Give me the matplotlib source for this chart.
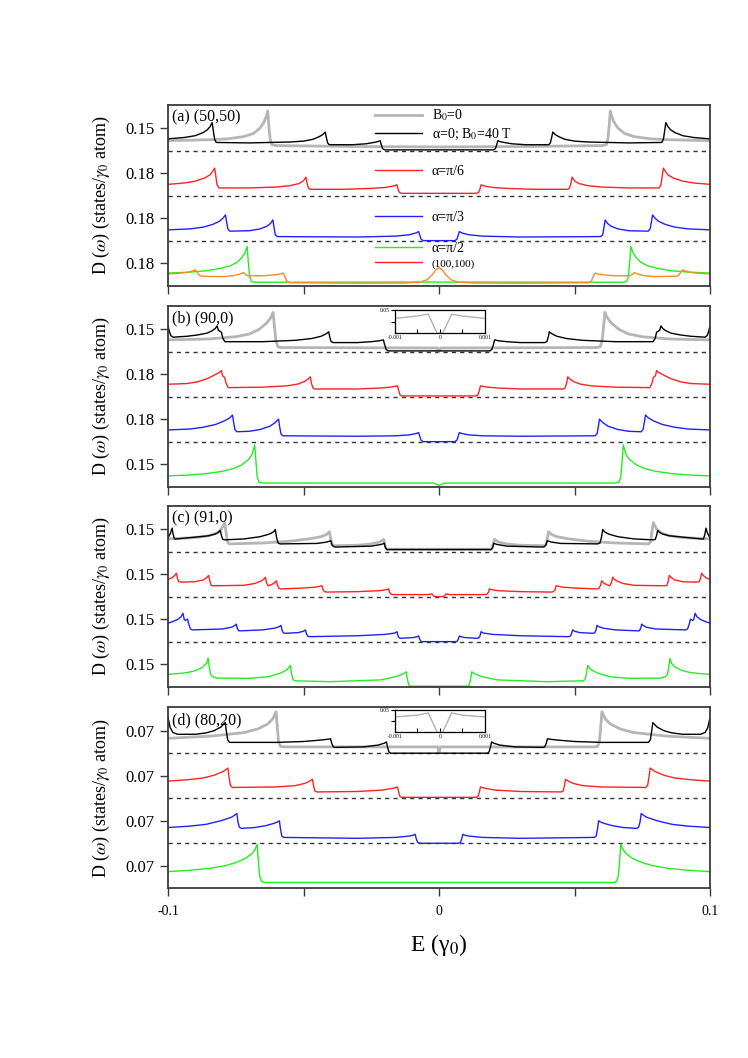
import numpy as np
import matplotlib
matplotlib.use("Agg")
import matplotlib.pyplot as plt
from matplotlib.lines import Line2D
from matplotlib.legend import Legend

plt.rcParams["font.family"] = ["Liberation Serif", "DejaVu Serif"]
plt.rcParams["mathtext.fontset"] = "stix"

# Only the E <= 0 half of each spectrum is kept (the curves are symmetric in E).
# Values are heights above the dashed baseline of the curve's tier (tier spacing = 1).

# (a) (50,50)
A_GRAY = [(-0.1, 0.22), (-0.085, 0.24), (-0.078, 0.26), (-0.072, 0.31), (-0.0685, 0.38),
          (-0.066, 0.50), (-0.0645, 0.64), (-0.0636, 0.78), (-0.0632, 0.88), (-0.0628, 0.55),
          (-0.0623, 0.25), (-0.0617, 0.13), (-0.060, 0.11), (-0.030, 0.09), (0, 0.08)]
A_BLACK = [(-0.1, 0.26), (-0.094, 0.29), (-0.090, 0.33), (-0.087, 0.40), (-0.0855, 0.46),
           (-0.0845, 0.53), (-0.0837, 0.62), (-0.0833, 0.45), (-0.0828, 0.25), (-0.0822, 0.18),
           (-0.070, 0.17), (-0.055, 0.19), (-0.050, 0.21), (-0.0465, 0.25), (-0.0445, 0.30),
           (-0.0430, 0.35), (-0.0420, 0.41), (-0.0416, 0.30), (-0.0411, 0.17), (-0.0405, 0.13),
           (-0.032, 0.13), (-0.027, 0.15), (-0.024, 0.18), (-0.0225, 0.20), (-0.0217, 0.22),
           (-0.0213, 0.13), (-0.0208, 0.04), (-0.0200, 0.015), (0, 0.015)]
A_RED = [(-0.1, 0.25), (-0.094, 0.28), (-0.090, 0.32), (-0.0865, 0.39), (-0.0845, 0.46),
         (-0.0836, 0.53), (-0.0828, 0.61), (-0.0824, 0.45), (-0.0819, 0.24), (-0.0812, 0.17),
         (-0.070, 0.17), (-0.060, 0.19), (-0.055, 0.22), (-0.0515, 0.27), (-0.0500, 0.33),
         (-0.0491, 0.41), (-0.0487, 0.28), (-0.0482, 0.17), (-0.0475, 0.14), (-0.035, 0.14),
         (-0.025, 0.16), (-0.020, 0.18), (-0.0170, 0.21), (-0.0155, 0.24), (-0.0151, 0.14),
         (-0.0146, 0.07), (-0.0138, 0.05), (0, 0.05)]
A_BLUE = [(-0.1, 0.24), (-0.092, 0.26), (-0.087, 0.30), (-0.0835, 0.36), (-0.0810, 0.43),
          (-0.0797, 0.50), (-0.0788, 0.57), (-0.0784, 0.42), (-0.0779, 0.26), (-0.0772, 0.21),
          (-0.070, 0.22), (-0.066, 0.26), (-0.0635, 0.32), (-0.0622, 0.38), (-0.0613, 0.46),
          (-0.0609, 0.30), (-0.0604, 0.13), (-0.0597, 0.09), (-0.030, 0.08), (-0.016, 0.10),
          (-0.011, 0.13), (-0.0085, 0.17), (-0.0075, 0.20), (-0.0071, 0.12), (-0.0066, 0.03),
          (-0.0058, 0.0), (0, 0.0)]
A_GREEN = [(-0.1, 0.28), (-0.092, 0.30), (-0.086, 0.33), (-0.081, 0.38), (-0.077, 0.44),
           (-0.0745, 0.52), (-0.0728, 0.62), (-0.0716, 0.73), (-0.0708, 0.87), (-0.0704, 0.55),
           (-0.0699, 0.20), (-0.0692, 0.09), (-0.068, 0.076), (0, 0.08)]
A_ORANGE = [(-0.1, 0.26), (-0.095, 0.28), (-0.0925, 0.30), (-0.0908, 0.33), (-0.0899, 0.35),
            (-0.0893, 0.31), (-0.0885, 0.23), (-0.0875, 0.21), (-0.080, 0.20), (-0.076, 0.22),
            (-0.0738, 0.25), (-0.0721, 0.29), (-0.0714, 0.25), (-0.0705, 0.22), (-0.065, 0.22),
            (-0.0605, 0.24), (-0.0585, 0.26), (-0.0576, 0.28), (-0.0570, 0.22), (-0.0562, 0.10),
            (-0.0552, 0.065), (-0.030, 0.055), (-0.012, 0.06), (-0.007, 0.08), (-0.0045, 0.13),
            (-0.0025, 0.24), (-0.0012, 0.35), (0, 0.40)]

# (b) (90,0)
B_GRAY = [(-0.1, 0.26), (-0.085, 0.28), (-0.075, 0.33), (-0.070, 0.39), (-0.0665, 0.49),
          (-0.0635, 0.64), (-0.0620, 0.76), (-0.0612, 0.87), (-0.0608, 0.60), (-0.0602, 0.25),
          (-0.0595, 0.11), (-0.0585, 0.09), (-0.0006, 0.08), (0, 0.0)]
B_BLACK = [(-0.1, 0.57), (-0.0995, 0.45), (-0.0990, 0.36), (-0.0982, 0.32), (-0.093, 0.34),
           (-0.089, 0.37), (-0.0856, 0.41), (-0.0838, 0.46), (-0.0826, 0.51), (-0.0819, 0.57),
           (-0.0814, 0.47), (-0.0808, 0.45), (-0.0803, 0.43), (-0.0798, 0.30), (-0.0790, 0.22),
           (-0.065, 0.22), (-0.053, 0.25), (-0.047, 0.29), (-0.0435, 0.34), (-0.0418, 0.39),
           (-0.0407, 0.44), (-0.0403, 0.32), (-0.0398, 0.22), (-0.0390, 0.20), (-0.030, 0.20),
           (-0.025, 0.22), (-0.0220, 0.24), (-0.0205, 0.26), (-0.0201, 0.16), (-0.0195, 0.05),
           (-0.0188, 0.015), (0, 0.015)]
B_RED = [(-0.1, 0.275), (-0.093, 0.29), (-0.089, 0.33), (-0.0855, 0.40), (-0.0825, 0.49),
         (-0.0810, 0.54), (-0.0803, 0.58), (-0.0799, 0.47), (-0.0795, 0.44), (-0.0791, 0.43),
         (-0.0786, 0.30), (-0.0778, 0.20), (-0.065, 0.21), (-0.056, 0.24), (-0.052, 0.28),
         (-0.0495, 0.34), (-0.0483, 0.39), (-0.0475, 0.44), (-0.0471, 0.30), (-0.0465, 0.19),
         (-0.0458, 0.17), (-0.030, 0.17), (-0.022, 0.19), (-0.0180, 0.21), (-0.0160, 0.23),
         (-0.0153, 0.24), (-0.0149, 0.14), (-0.0144, 0.04), (-0.0137, 0.015), (0, 0.015)]
B_BLUE = [(-0.1, 0.26), (-0.092, 0.28), (-0.087, 0.32), (-0.0825, 0.38), (-0.0792, 0.46),
          (-0.0772, 0.53), (-0.0762, 0.59), (-0.0758, 0.44), (-0.0753, 0.27), (-0.0746, 0.22),
          (-0.070, 0.23), (-0.066, 0.27), (-0.0625, 0.34), (-0.0605, 0.42), (-0.0592, 0.50),
          (-0.0588, 0.33), (-0.0583, 0.17), (-0.0576, 0.13), (-0.030, 0.12), (-0.016, 0.13),
          (-0.011, 0.15), (-0.0085, 0.18), (-0.0075, 0.20), (-0.0071, 0.12), (-0.0066, 0.03),
          (-0.0058, 0.0), (0, 0.0)]
B_GREEN = [(-0.1, 0.24), (-0.092, 0.26), (-0.086, 0.29), (-0.080, 0.34), (-0.076, 0.40),
           (-0.073, 0.48), (-0.0705, 0.59), (-0.0690, 0.71), (-0.0680, 0.93), (-0.0676, 0.60),
           (-0.0671, 0.22), (-0.0664, 0.10), (-0.065, 0.08), (-0.002, 0.08), (0, 0.03)]

# (c) (91,0)
C_GRAY = [(-0.1, 0.28), (-0.090, 0.31), (-0.085, 0.35), (-0.0820, 0.41), (-0.0803, 0.50),
          (-0.0791, 0.64), (-0.0786, 0.45), (-0.0781, 0.22), (-0.0774, 0.17), (-0.065, 0.19),
          (-0.055, 0.23), (-0.048, 0.28), (-0.0435, 0.33), (-0.0415, 0.38), (-0.0404, 0.44),
          (-0.0400, 0.30), (-0.0395, 0.16), (-0.0388, 0.13), (-0.030, 0.14), (-0.025, 0.17),
          (-0.0220, 0.21), (-0.0204, 0.27), (-0.0200, 0.16), (-0.0195, 0.07), (-0.0188, 0.05),
          (0, 0.05)]
C_BLACK = [(-0.1, 0.30), (-0.0990, 0.42), (-0.0985, 0.52), (-0.0981, 0.38), (-0.0976, 0.28),
           (-0.0968, 0.28), (-0.090, 0.32), (-0.085, 0.35), (-0.0825, 0.39), (-0.0813, 0.43),
           (-0.0807, 0.47), (-0.0803, 0.36), (-0.0798, 0.27), (-0.0790, 0.26), (-0.072, 0.28),
           (-0.066, 0.33), (-0.0625, 0.39), (-0.0610, 0.44), (-0.0604, 0.49), (-0.0600, 0.33),
           (-0.0594, 0.19), (-0.0586, 0.17), (-0.045, 0.18), (-0.0415, 0.21), (-0.0399, 0.24),
           (-0.0395, 0.15), (-0.0389, 0.11), (-0.0383, 0.10), (-0.025, 0.12), (-0.0212, 0.16),
           (-0.0202, 0.185), (-0.0198, 0.09), (-0.0192, 0.04), (-0.0185, 0.045), (0, 0.045)]
C_RED = [(-0.1, 0.38), (-0.0985, 0.42), (-0.0975, 0.47), (-0.0969, 0.52), (-0.0965, 0.40),
         (-0.0960, 0.33), (-0.0950, 0.32), (-0.090, 0.33), (-0.0870, 0.37), (-0.0858, 0.42),
         (-0.0850, 0.47), (-0.0846, 0.35), (-0.0841, 0.25), (-0.0834, 0.24), (-0.072, 0.25),
         (-0.068, 0.29), (-0.0655, 0.35), (-0.0646, 0.39), (-0.0641, 0.43), (-0.0636, 0.30),
         (-0.0630, 0.24), (-0.0620, 0.26), (-0.0608, 0.30), (-0.0600, 0.35), (-0.0596, 0.25),
         (-0.0590, 0.18), (-0.0582, 0.17), (-0.050, 0.19), (-0.0455, 0.21), (-0.0432, 0.24),
         (-0.0428, 0.15), (-0.0422, 0.11), (-0.0415, 0.10), (-0.030, 0.11), (-0.022, 0.13),
         (-0.0193, 0.155), (-0.0186, 0.17), (-0.0182, 0.09), (-0.0176, 0.05), (-0.0170, 0.044),
         (-0.0040, 0.044), (-0.0026, 0.06), (-0.0021, 0.02), (-0.0015, 0.0), (0, 0.0)]
C_BLUE = [(-0.1, 0.41), (-0.0985, 0.44), (-0.0965, 0.49), (-0.0952, 0.55), (-0.0945, 0.63),
          (-0.0940, 0.49), (-0.0936, 0.47), (-0.0928, 0.50), (-0.0923, 0.38), (-0.0917, 0.28),
          (-0.0910, 0.26), (-0.080, 0.28), (-0.0765, 0.32), (-0.0753, 0.36), (-0.0748, 0.39),
          (-0.0744, 0.29), (-0.0739, 0.24), (-0.0730, 0.24), (-0.065, 0.26), (-0.0605, 0.30),
          (-0.0590, 0.33), (-0.0583, 0.36), (-0.0579, 0.25), (-0.0574, 0.19), (-0.0566, 0.185),
          (-0.0520, 0.20), (-0.0500, 0.23), (-0.0493, 0.26), (-0.0489, 0.17), (-0.0484, 0.12),
          (-0.0477, 0.11), (-0.030, 0.13), (-0.020, 0.16), (-0.0163, 0.19), (-0.0155, 0.22),
          (-0.0151, 0.12), (-0.0146, 0.08), (-0.0140, 0.074), (-0.0095, 0.09), (-0.0080, 0.11),
          (-0.0075, 0.126), (-0.0071, 0.05), (-0.0066, 0.0), (0, 0.0)]
C_GREEN = [(-0.1, 0.27), (-0.093, 0.31), (-0.0895, 0.36), (-0.0870, 0.44), (-0.0858, 0.52),
           (-0.0852, 0.63), (-0.0848, 0.45), (-0.0843, 0.27), (-0.0835, 0.22), (-0.0820, 0.19),
           (-0.070, 0.185), (-0.063, 0.22), (-0.0585, 0.30), (-0.0560, 0.38), (-0.0549, 0.47),
           (-0.0545, 0.33), (-0.0540, 0.17), (-0.0533, 0.13), (-0.040, 0.11), (-0.0215, 0.15),
           (-0.0160, 0.22), (-0.0133, 0.28), (-0.0121, 0.33), (-0.0117, 0.18), (-0.0112, 0.04),
           (-0.0106, 0.01), (0, 0.01)]

# (d) (80,20)
D_GRAY = [(-0.1, 0.33), (-0.084, 0.38), (-0.0717, 0.46), (-0.0668, 0.54), (-0.0632, 0.65),
          (-0.0614, 0.76), (-0.0601, 0.92), (-0.0597, 0.60), (-0.0592, 0.25), (-0.0585, 0.15),
          (-0.0575, 0.14), (-0.0005, 0.14), (0, 0.01)]
D_BLACK = [(-0.1, 0.79), (-0.0992, 0.57), (-0.0982, 0.46), (-0.0965, 0.42), (-0.090, 0.42),
           (-0.086, 0.45), (-0.083, 0.50), (-0.0805, 0.58), (-0.0789, 0.68), (-0.0785, 0.50),
           (-0.0780, 0.30), (-0.0773, 0.24), (-0.060, 0.24), (-0.050, 0.26), (-0.0440, 0.29),
           (-0.0410, 0.31), (-0.0400, 0.32), (-0.0396, 0.22), (-0.0390, 0.14), (-0.0383, 0.13),
           (-0.028, 0.14), (-0.0225, 0.18), (-0.0203, 0.22), (-0.0194, 0.25), (-0.0190, 0.14),
           (-0.0185, 0.03), (-0.0178, 0.0), (0, 0.0)]
D_RED = [(-0.1, 0.38), (-0.093, 0.41), (-0.087, 0.45), (-0.083, 0.51), (-0.0795, 0.60),
         (-0.0779, 0.67), (-0.0775, 0.48), (-0.0770, 0.29), (-0.0763, 0.24), (-0.060, 0.25),
         (-0.053, 0.28), (-0.0495, 0.33), (-0.0477, 0.38), (-0.0467, 0.42), (-0.0463, 0.28),
         (-0.0458, 0.16), (-0.0451, 0.14), (-0.030, 0.15), (-0.021, 0.18), (-0.0170, 0.22),
         (-0.0153, 0.25), (-0.0149, 0.14), (-0.0144, 0.04), (-0.0137, 0.02), (0, 0.02)]
D_BLUE = [(-0.1, 0.35), (-0.092, 0.38), (-0.086, 0.42), (-0.0805, 0.50), (-0.0765, 0.58),
          (-0.0746, 0.66), (-0.0742, 0.48), (-0.0737, 0.36), (-0.0730, 0.33), (-0.068, 0.35),
          (-0.064, 0.39), (-0.0610, 0.44), (-0.0597, 0.47), (-0.0589, 0.50), (-0.0585, 0.32),
          (-0.0580, 0.16), (-0.0573, 0.13), (-0.030, 0.11), (-0.016, 0.13), (-0.011, 0.16),
          (-0.0095, 0.18), (-0.0088, 0.20), (-0.0084, 0.10), (-0.0079, 0.02), (-0.0072, 0.0),
          (0, 0.0)]
D_GREEN = [(-0.1, 0.37), (-0.092, 0.40), (-0.085, 0.44), (-0.079, 0.50), (-0.075, 0.57),
           (-0.0715, 0.66), (-0.0690, 0.77), (-0.0678, 0.87), (-0.0671, 0.98), (-0.0667, 0.65),
           (-0.0662, 0.28), (-0.0655, 0.15), (-0.0645, 0.13), (0, 0.13)]

# insets (B0=0 curve around E=0)
INSET_B = [(-0.001, 0.032), (-0.0005, 0.037), (-0.00026, 0.041), (-0.00015, 0.018),
           (-0.00006, 0.0), (0, 0.0)]
INSET_D = [(-0.001, 0.035), (-0.0005, 0.039), (-0.00026, 0.044), (-0.00015, 0.020),
           (-0.00006, 0.0), (0, 0.0)]

PANEL_LABELS = ["(a) (50,50)", "(b) (90,0)", "(c) (91,0)", "(d) (80,20)"]
YTICK_LABELS = [["0.18", "0.18", "0.18", "0.15"],
                ["0.15", "0.18", "0.18", "0.15"],
                ["0.15", "0.15", "0.15", "0.15"],
                ["0.07", "0.07", "0.07", "0.07"]]
XTICKS = [-0.1, -0.05, 0, 0.05, 0.1]
XTICK_LABELS = ["-0.1", "", "0", "", "0.1"]

STYLE = {
    "gray": dict(color="#b5b5b5", lw=2.0),
    "black": dict(color="black", lw=1.0),
    "red": dict(color="#ff2222", lw=1.0),
    "blue": dict(color="#2020ff", lw=1.0),
    "green": dict(color="#22ee22", lw=1.0),
    "orange": dict(color="#ff8a22", lw=1.0),
}

CURVES = [
    [(A_GRAY, 3, "gray"), (A_BLACK, 3, "black"), (A_RED, 2, "red"), (A_BLUE, 1, "blue"),
     (A_GREEN, 0, "green"), (A_ORANGE, 0, "orange")],
    [(B_GRAY, 3, "gray"), (B_BLACK, 3, "black"), (B_RED, 2, "red"), (B_BLUE, 1, "blue"),
     (B_GREEN, 0, "green")],
    [(C_GRAY, 3, "gray"), (C_BLACK, 3, "black"), (C_RED, 2, "red"), (C_BLUE, 1, "blue"),
     (C_GREEN, 0, "green")],
    [(D_GRAY, 3, "gray"), (D_BLACK, 3, "black"), (D_RED, 2, "red"), (D_BLUE, 1, "blue"),
     (D_GREEN, 0, "green")],
]


def mirrored(half):
    """Complete the E > 0 side from the stored E <= 0 half."""
    e = np.array([p[0] for p in half])
    d = np.array([p[1] for p in half])
    if e[-1] == 0:
        e_right, d_right = -e[-2::-1], d[-2::-1]
    else:
        e_right, d_right = -e[::-1], d[::-1]
    return np.concatenate([e, e_right]), np.concatenate([d, d_right])


fig = plt.figure(figsize=(7.48, 10.58), dpi=100)
spine_col = "#3a3a3a"
bottoms = [0.7300, 0.5400, 0.3510, 0.1604]
axes = []
for i, b in enumerate(bottoms):
    ax = fig.add_axes([0.2246, b, 0.7246, 0.1711])
    axes.append(ax)
    for curve, tier, key in CURVES[i]:
        e, d = mirrored(curve)
        ax.plot(e, d + tier, **STYLE[key], zorder=2)
    for tier in (1, 2, 3):
        ax.axhline(tier, color="#333333", lw=1.0, ls=(0, (3, 3)), zorder=1)
    ax.set_xlim(-0.1, 0.1)
    ax.set_ylim(0, 4.02)
    ax.set_yticks([0.5, 1.5, 2.5, 3.5])
    ax.set_yticklabels(YTICK_LABELS[i], fontsize=12)
    ax.set_xticks(XTICKS)
    ax.set_xticklabels(XTICK_LABELS if i == 3 else [""] * 5, fontsize=10)
    ax.tick_params(direction="out", length=6, width=1.0, color=spine_col)
    ax.tick_params(axis="x", pad=6)
    for s in ax.spines.values():
        s.set_color(spine_col)
        s.set_linewidth(1.3)
    ax.set_ylabel(r"D ($\omega$) (states/$\gamma_0$ atom)", fontsize=13)
    ax.yaxis.set_label_coords(-0.103, 0.5)
    ax.text(0.008, 0.93, PANEL_LABELS[i], transform=ax.transAxes, fontsize=11.5,
            ha="left", va="center")

axes[3].set_xlabel("E (γ$_0$)", fontsize=17, labelpad=10)

# legend of panel (a), one group next to each tier
ax = axes[0]
leg_kw = dict(loc="center left", frameon=False, borderpad=0, borderaxespad=0,
              handlelength=3.4, handletextpad=0.7, fontsize=10)
groups = [
    ([Line2D([], [], **STYLE["gray"]), Line2D([], [], **STYLE["black"])],
     ["B$_0$=0", "α=0; B$_0$=40 T"], 0.889, 0.25),
    ([Line2D([], [], **STYLE["red"])], ["α=π/6"], 0.631, 0.25),
    ([Line2D([], [], **STYLE["blue"])], ["α=π/3"], 0.379, 0.25),
    ([Line2D([], [], **STYLE["green"]), Line2D([], [], **STYLE["red"])],
     ["α=π/2", "(100,100)"], 0.165, 0.15),
]
for handles, labels, y, spacing in groups:
    lg = Legend(ax, handles, labels, bbox_to_anchor=(0.382, y), labelspacing=spacing,
                **leg_kw)
    if labels[-1] == "(100,100)":
        lg.get_texts()[-1].set_fontsize(8)
    ax.add_artist(lg)

# insets in (b) and (d)
for data, b, h in [(INSET_B, 0.685, 0.022), (INSET_D, 0.3078, 0.0208)]:
    ins = fig.add_axes([0.528, b, 0.1203, h])
    e, d = mirrored(data)
    ins.plot(e, d, color="#b0b0b0", lw=1.0)
    ins.set_xlim(-0.001, 0.001)
    ins.set_ylim(0, 0.05)
    ins.set_xticks([-0.001, -0.0005, 0, 0.0005, 0.001])
    ins.set_xticklabels(["-0.001", "", "0", "", "0.001"], fontsize=4)
    ins.set_yticks([0.025, 0.05])
    ins.set_yticklabels(["", "0.05"], fontsize=4)
    ins.tick_params(axis="x", direction="in", length=3, width=0.8, pad=1)
    ins.tick_params(axis="y", direction="out", length=3, width=0.8, pad=1)
    for s in ins.spines.values():
        s.set_linewidth(0.9)

fig.savefig("out.png", dpi=100)
